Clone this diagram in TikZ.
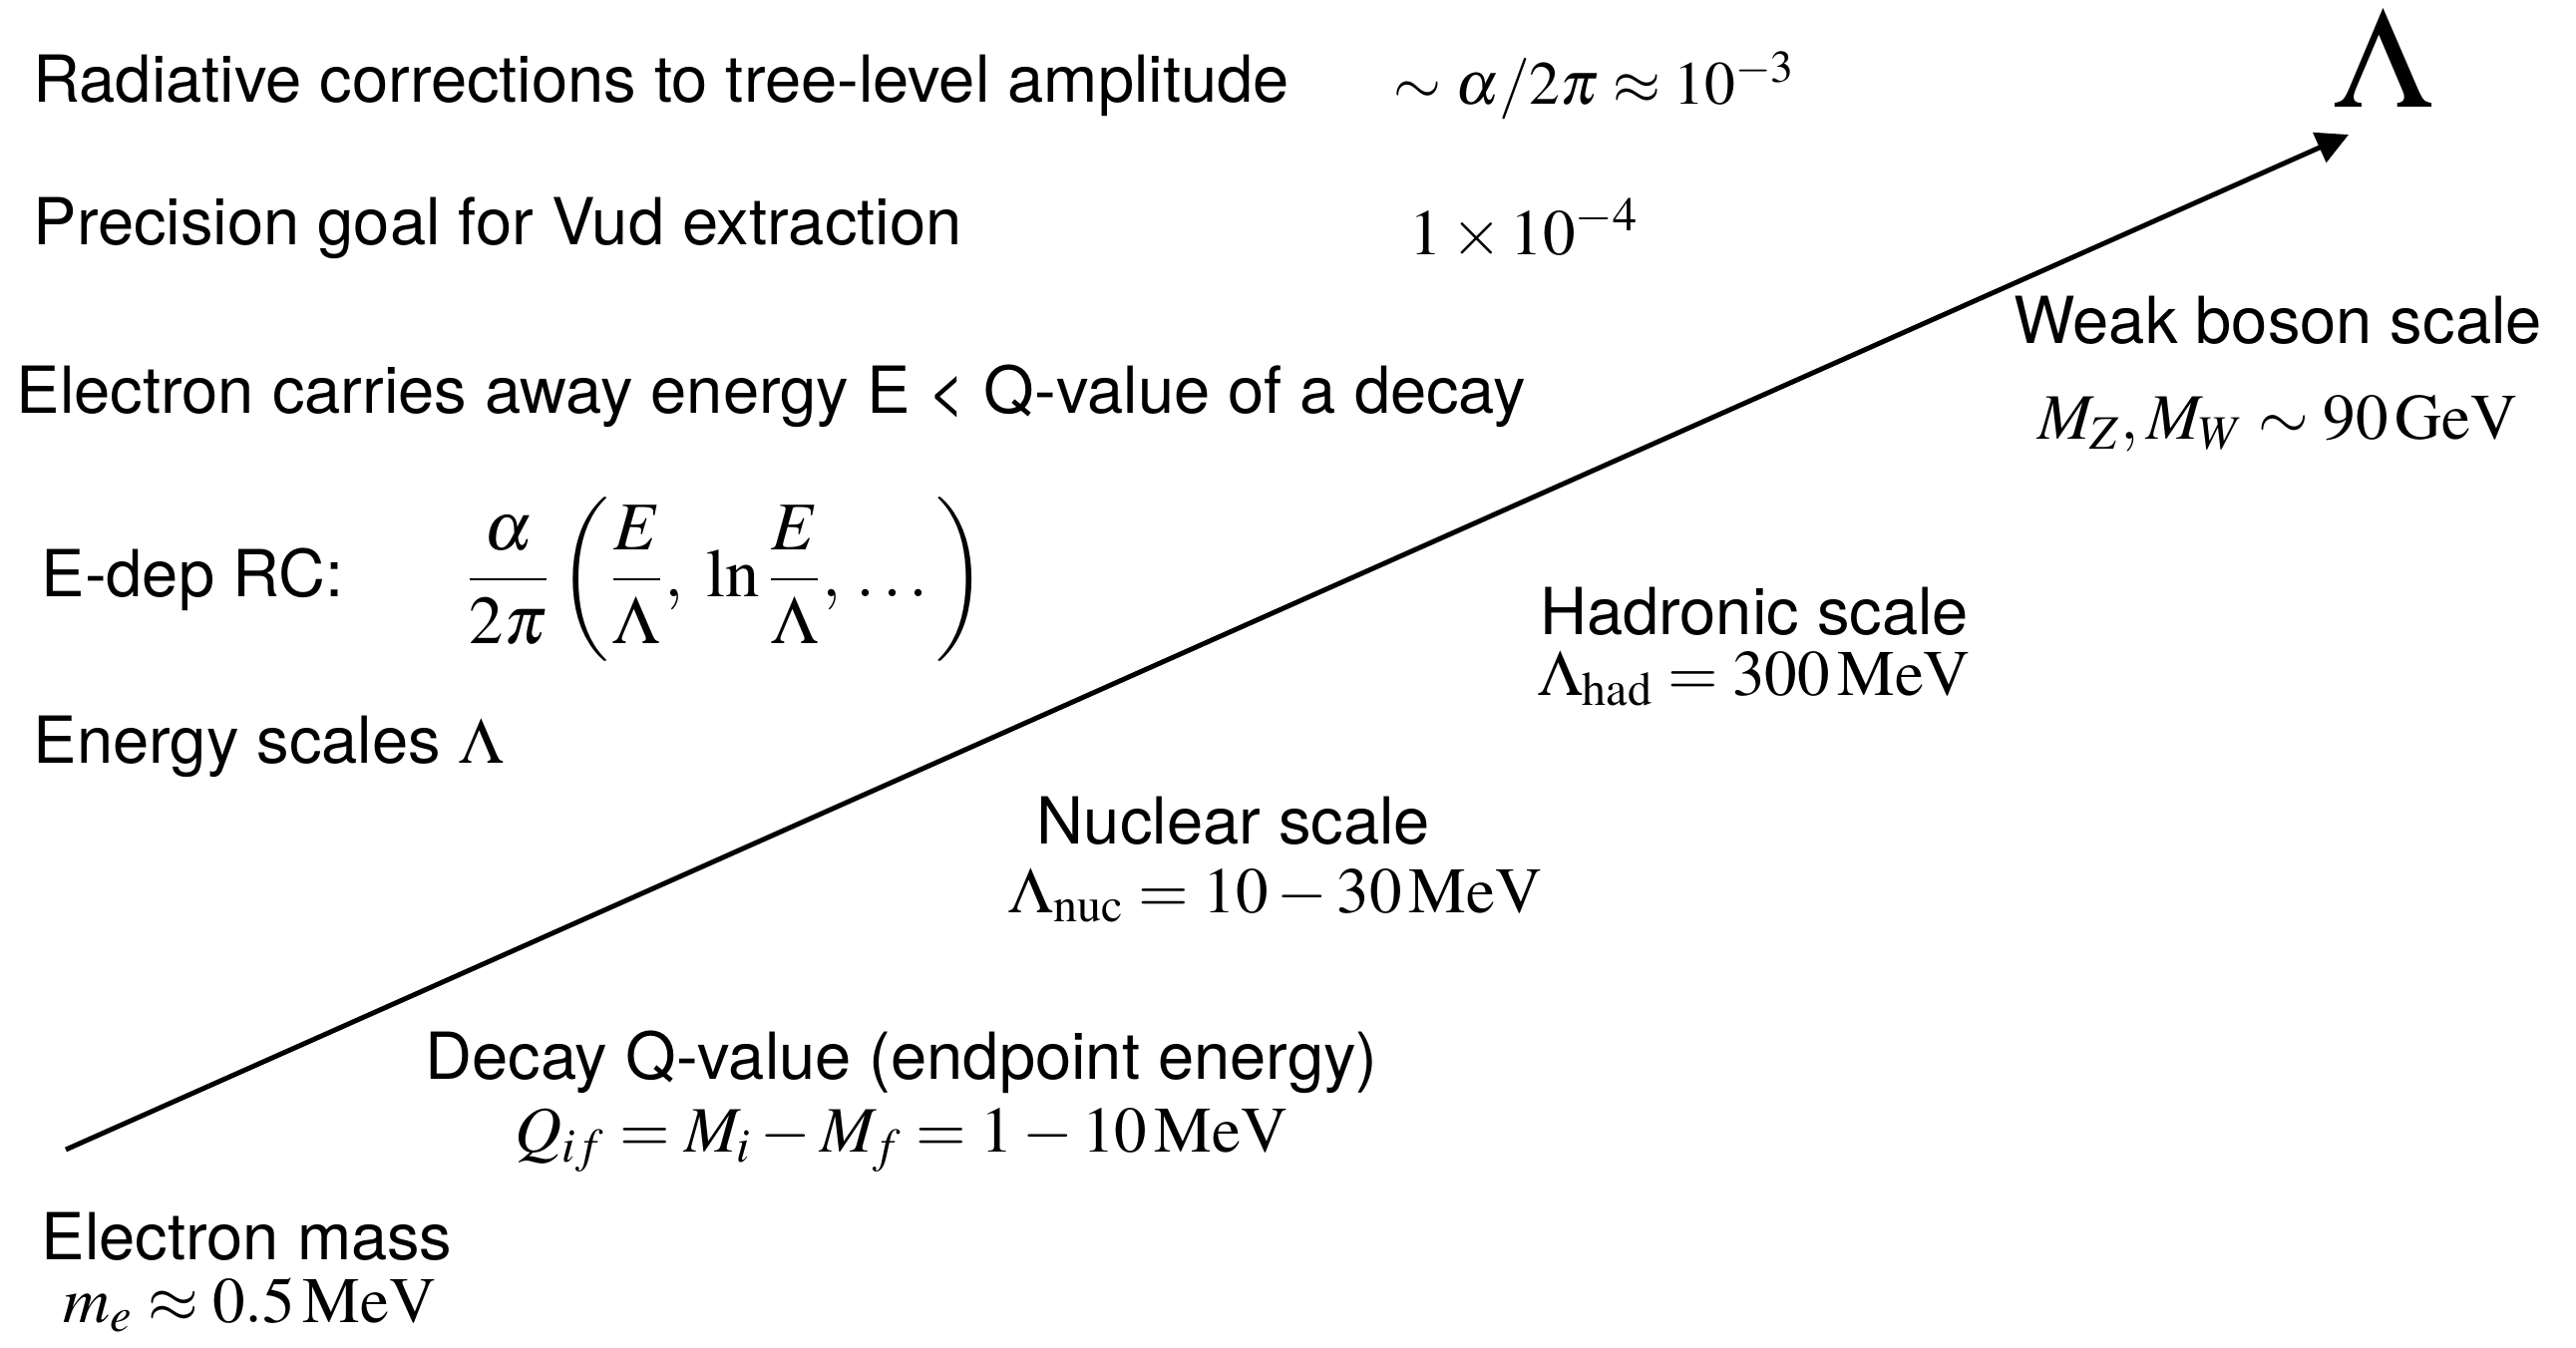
\documentclass[tikz,border=0pt]{standalone}
\usepackage{amsmath}
\usepackage{mathptmx}
\usepackage[no-math]{fontspec}
\setmainfont{TeX Gyre Heros}
\usetikzlibrary{arrows.meta,positioning}
\newcommand{\mev}{\,\mathrm{MeV}}

\begin{document}
\begin{tikzpicture}[x=0.01cm,y=-0.01cm,
  every node/.style={inner sep=0pt,font=\fontsize{18.5}{22}\selectfont},
  txt/.style={anchor=west},
  axis/.style={line width=1.4pt,-{Triangle[length=3.2mm,width=3.2mm]}}]
\useasboundingbox (0,0) rectangle (2583,1351);
% Header lines
\node[txt] (rad) at (33,86) {Radiative corrections to tree-level amplitude};
\node[txt,font=\fontsize{17.5}{22}\selectfont] (radval) at (1397,86) {$\sim\alpha/2\pi\approx10^{-3}$};
\node[txt] (prec) at (33,229) {Precision goal for Vud extraction};
\node[txt] (precval) at (1413,230) {$1\times10^{-4}$};
\node[txt] (carry) at (16,397) {Electron carries away energy E < Q-value of a decay};
\node[txt] (edep) at (41,581) {E-dep RC:};
\node[txt,font=\fontsize{19.5}{24}\selectfont] (rc) at (466,581) {$\displaystyle\frac{\alpha}{2\pi}\left(\frac{E}{\Lambda},\;\ln\frac{E}{\Lambda},\,\dots\right)$};
\node[txt] (scales) at (33,749) {Energy scales $\Lambda$};
% Scale axis
\coordinate (lo) at (66,1153);
\coordinate (hi) at (2355,135);
\draw[axis] (lo) -- (hi);
\node[anchor=base,font=\fontsize{41}{46}\selectfont] (lam) at (2390,107) {$\Lambda$};
% Scales along the axis
\node (weak) at (2284,321) {Weak boson scale};
\node (weakval) at (2284,425) {$M_Z, M_W\sim 90\,\mathrm{GeV}$};
\node (had) at (1759,613) {Hadronic scale};
\node[below=4pt of had] (hadval) {$\Lambda_{\mathrm{had}}=300\mev$};
\node (nuc) at (1237,823) {Nuclear scale};
\node (nucval) at (1279,898) {$\Lambda_{\mathrm{nuc}}=10-30\mev$};
\node (decay) at (904,1065) {Decay Q-value (endpoint energy)};
\node[below=4pt of decay] (decayval) {$Q_{if}=M_i-M_f=1-10\mev$};
\node[txt] (emass) at (41,1240) {Electron mass};
\node[anchor=base west] (emassval) at (63,1326) {$m_e\approx0.5\mev$};
\end{tikzpicture}
\end{document}
